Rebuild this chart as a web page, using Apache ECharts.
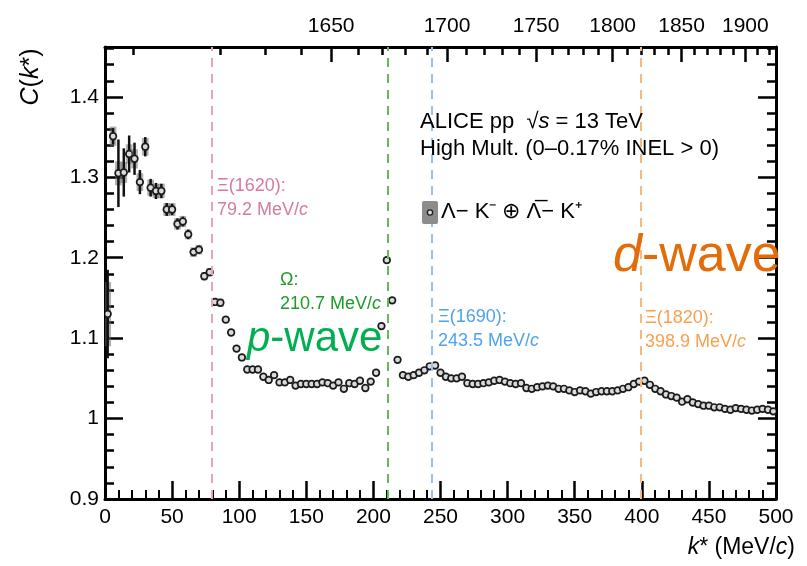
<!DOCTYPE html>
<html>
<head>
<meta charset="utf-8">
<script src="https://cdn.jsdelivr.net/npm/echarts@6/dist/echarts.min.js"></script>
<style>
html, body { margin: 0; padding: 0; background: #fff; }
#main { width: 807px; height: 566px; }
</style>
</head>
<body>
<div id="main"></div>
<script>
// k* bin centres (MeV/c)
var kStar = [
    2, 6, 10, 14, 18, 22, 26, 30, 34, 38, 42, 46, 50, 54, 58, 62, 66, 70, 74, 78,
    82, 86, 90, 94, 98, 102, 106, 110, 114, 118, 122, 126, 130, 134, 138, 142, 146, 150, 154, 158,
    162, 166, 170, 174, 178, 182, 186, 190, 194, 198, 202, 206, 210, 214, 218, 222, 226, 230, 234, 238,
    242, 246, 250, 254, 258, 262, 266, 270, 274, 278, 282, 286, 290, 294, 298, 302, 306, 310, 314, 318,
    322, 326, 330, 334, 338, 342, 346, 350, 354, 358, 362, 366, 370, 374, 378, 382, 386, 390, 394, 398,
    402, 406, 410, 414, 418, 422, 426, 430, 434, 438, 442, 446, 450, 454, 458, 462, 466, 470, 474, 478,
    482, 486, 490, 494, 498
];
// C(k*)
var corr = [
    1.130, 1.351, 1.305, 1.306, 1.329, 1.323, 1.294, 1.338, 1.287, 1.283, 1.283, 1.260, 1.260, 1.242, 1.245, 1.229, 1.207, 1.210, 1.177, 1.182,
    1.145, 1.144, 1.123, 1.107, 1.087, 1.076, 1.061, 1.061, 1.061, 1.052, 1.048, 1.054, 1.045, 1.045, 1.048, 1.041, 1.043, 1.043, 1.043, 1.043,
    1.045, 1.044, 1.041, 1.045, 1.037, 1.044, 1.043, 1.047, 1.038, 1.046, 1.057, 1.115, 1.197, 1.147, 1.073, 1.054, 1.052, 1.054, 1.057, 1.060,
    1.065, 1.066, 1.057, 1.052, 1.050, 1.050, 1.052, 1.044, 1.043, 1.043, 1.044, 1.045, 1.047, 1.048, 1.046, 1.044, 1.043, 1.044, 1.038, 1.037,
    1.039, 1.040, 1.041, 1.040, 1.037, 1.037, 1.035, 1.033, 1.035, 1.034, 1.031, 1.033, 1.034, 1.034, 1.034, 1.035, 1.037, 1.039, 1.043, 1.046,
    1.047, 1.042, 1.037, 1.034, 1.030, 1.028, 1.026, 1.021, 1.024, 1.020, 1.018, 1.016, 1.016, 1.014, 1.014, 1.012, 1.011, 1.013, 1.012, 1.011,
    1.010, 1.011, 1.012, 1.011, 1.009
];
// statistical uncertainties
var statErr = [
    0.055, 0.010, 0.042, 0.030, 0.023, 0.020, 0.015, 0.012, 0.011, 0.010, 0.009, 0.008, 0.007, 0.007, 0.006, 0.006, 0.005, 0.005, 0.005, 0.004,
    0.004, 0.004, 0.004, 0.004, 0.004, 0.004, 0.004, 0.004, 0.003, 0.003, 0.003, 0.003, 0.003, 0.003, 0.003, 0.003, 0.003, 0.003, 0.003, 0.003,
    0.003, 0.003, 0.003, 0.003, 0.003, 0.003, 0.003, 0.003, 0.003, 0.003, 0.003, 0.003, 0.003, 0.003, 0.003, 0.003, 0.003, 0.003, 0.003, 0.003,
    0.003, 0.003, 0.003, 0.003, 0.003, 0.003, 0.003, 0.003, 0.003, 0.003, 0.003, 0.003, 0.003, 0.003, 0.003, 0.003, 0.003, 0.003, 0.003, 0.003,
    0.003, 0.003, 0.003, 0.003, 0.003, 0.003, 0.003, 0.003, 0.003, 0.003, 0.003, 0.003, 0.003, 0.003, 0.003, 0.003, 0.003, 0.003, 0.003, 0.003,
    0.003, 0.003, 0.003, 0.003, 0.003, 0.003, 0.003, 0.003, 0.003, 0.003, 0.003, 0.003, 0.003, 0.003, 0.003, 0.003, 0.003, 0.003, 0.003, 0.003,
    0.003, 0.003, 0.003, 0.003, 0.003
];
// systematic uncertainties
var systErr = [
    0.040, 0.012, 0.015, 0.013, 0.012, 0.012, 0.011, 0.011, 0.010, 0.009, 0.009, 0.008, 0.008, 0.007, 0.007, 0.006, 0.006, 0.006, 0.005, 0.005,
    0.005, 0.005, 0.004, 0.004, 0.004, 0.004, 0.004, 0.004, 0.004, 0.004, 0.004, 0.004, 0.004, 0.004, 0.004, 0.004, 0.004, 0.004, 0.004, 0.004,
    0.004, 0.004, 0.004, 0.004, 0.004, 0.004, 0.004, 0.004, 0.004, 0.004, 0.004, 0.004, 0.004, 0.004, 0.004, 0.004, 0.004, 0.004, 0.004, 0.004,
    0.004, 0.004, 0.004, 0.004, 0.004, 0.004, 0.004, 0.004, 0.004, 0.004, 0.004, 0.004, 0.004, 0.004, 0.004, 0.004, 0.004, 0.004, 0.004, 0.004,
    0.004, 0.004, 0.004, 0.004, 0.004, 0.004, 0.004, 0.004, 0.004, 0.004, 0.004, 0.004, 0.004, 0.004, 0.004, 0.004, 0.004, 0.004, 0.004, 0.004,
    0.004, 0.004, 0.004, 0.004, 0.004, 0.004, 0.004, 0.004, 0.004, 0.004, 0.004, 0.004, 0.004, 0.004, 0.004, 0.004, 0.004, 0.004, 0.004, 0.004,
    0.004, 0.004, 0.004, 0.004, 0.004
];

// thresholds of the resonances
var resName = ['Ξ(1620):', 'Ω:', 'Ξ(1690):', 'Ξ(1820):'];
var resK = [79.2, 210.7, 243.5, 398.9];

var yMajor = [0.9, 1.0, 1.1, 1.2, 1.3, 1.4];
var massMajor = [1650, 1700, 1750, 1800, 1850, 1900];

var FONT = '"Liberation Sans", Arial, Helvetica, sans-serif';
var textColors = ['#d9789f', '#1e9a28', '#4ea2f0', '#f7a050'];
var lineColors = ['#e6a3c1', '#5cbf5c', '#8ec5f6', '#f8b77c'];

// invariant mass <-> k* for the Lambda-K pair
var mLambda = 1115.683, mKaon = 493.677;
function kToMass(k) {
    return Math.sqrt(k * k + mLambda * mLambda) + Math.sqrt(k * k + mKaon * mKaon);
}
function massToK(M) {
    var a = mLambda + mKaon, b = mLambda - mKaon;
    return Math.sqrt((M * M - a * a) * (M * M - b * b)) / (2 * M);
}

var majorK = massMajor.map(massToK);
var minorK = [];
for (var m = 1610; m <= 1920; m += 10) {
    if (massMajor.indexOf(m) < 0) minorK.push(massToK(m));
}
var yMinor = [];
for (var i = 1; i <= 28; i++) {
    if (i % 5 != 0) yMinor.push(+(0.9 + i * 0.02).toFixed(2));
}

var points = [];
for (var i = 0; i < kStar.length; i++) {
    points.push([kStar[i], corr[i], statErr[i], systErr[i]]);
}

var black = { color: '#000', width: 3 };
function xAx(pos, extra) {
    var a = {
        type: 'value', position: pos, min: 0, max: 500,
        axisLine: { show: true, onZero: false, lineStyle: black },
        axisTick: { show: true, inside: true, length: 18, lineStyle: { color: '#000', width: 2.5 } },
        axisLabel: { show: false, color: '#000', fontSize: 21, fontFamily: FONT },
        splitLine: { show: false }
    };
    return echarts.util.merge(a, extra, true);
}
function yAx(pos, extra) {
    var a = {
        type: 'value', position: pos, min: 0.9, max: 1.462,
        axisLine: { show: true, onZero: false, lineStyle: black },
        axisTick: { show: true, inside: true, length: 18, lineStyle: { color: '#000', width: 2.5 } },
        axisLabel: { show: false, color: '#000', fontSize: 21, fontFamily: FONT },
        splitLine: { show: false }
    };
    return echarts.util.merge(a, extra, true);
}

var chart = echarts.init(document.getElementById('main'));

var option = {
    animation: false,
    backgroundColor: '#fff',
    grid: { left: 105, right: 31, top: 47, bottom: 67, containLabel: false, outerBoundsMode: 'none' },
    xAxis: [
        xAx('bottom', {
            interval: 50,
            minorTick: { show: true, splitNumber: 5, length: 9, lineStyle: { color: '#000', width: 2 } },
            axisLabel: { show: true, margin: 8 }
        }),
        xAx('top', {
            axisTick: { length: 15, customValues: majorK },
            axisLabel: {
                show: true, margin: 10, customValues: majorK,
                formatter: function (v) { return Math.round(kToMass(v) / 10) * 10; }
            }
        }),
        xAx('top', {
            axisLine: { show: false },
            axisTick: { length: 8, customValues: minorK }
        })
    ],
    yAxis: [
        yAx('left', {
            axisTick: { customValues: yMajor },
            axisLabel: {
                show: true, margin: 6, customValues: yMajor,
                formatter: function (v) { return String(+v.toFixed(1)); }
            }
        }),
        yAx('left', { axisLine: { show: false }, axisTick: { length: 9, customValues: yMinor } }),
        yAx('right', { axisTick: { customValues: yMajor } }),
        yAx('right', { axisLine: { show: false }, axisTick: { length: 9, customValues: yMinor } })
    ],
    series: [
        {
            type: 'line',
            data: [],
            z: 1,
            markLine: {
                silent: true,
                symbol: ['none', 'none'],
                label: { show: false },
                data: resK.map(function (k, i) {
                    return { xAxis: k, lineStyle: { color: lineColors[i], type: [9, 7], width: 2 } };
                })
            }
        },
        {
            type: 'custom',
            z: 3,
            clip: true,
            data: points,
            renderItem: function (params, api) {
                var k = api.value(0), c = api.value(1), st = api.value(2), sy = api.value(3);
                var p = api.coord([k, c]);
                var hi = api.coord([k, c + st]), lo = api.coord([k, c - st]);
                var b1 = api.coord([k - 2.5, c + sy]), b2 = api.coord([k + 2.5, c - sy]);
                return {
                    type: 'group',
                    children: [
                        { type: 'rect', shape: { x: b1[0], y: b1[1], width: b2[0] - b1[0], height: b2[1] - b1[1] },
                          style: { fill: 'rgba(110,110,110,0.55)' } },
                        { type: 'line', shape: { x1: p[0], y1: hi[1], x2: p[0], y2: lo[1] },
                          style: { stroke: '#111', lineWidth: 2.5 } },
                        { type: 'circle', shape: { cx: p[0], cy: p[1], r: 3.3 },
                          style: { fill: '#dadada', stroke: '#1a1a1a', lineWidth: 1.7 } }
                    ]
                };
            }
        }
    ],
    graphic: []
};

// resonance labels
var labelPos = [[217, 174], [280, 268], [438, 305], [645, 306]];
for (var i = 0; i < resK.length; i++) {
    option.graphic.push({
        type: 'text', x: labelPos[i][0], y: labelPos[i][1], z: 10,
        style: {
            text: '{t|' + resName[i] + '}\n{t|' + resK[i].toFixed(1) + ' MeV/}{it|c}',
            verticalAlign: 'top',
            rich: {
                t: { fontSize: 18, fontFamily: FONT, fill: textColors[i], lineHeight: 24 },
                it: { fontSize: 18, fontFamily: FONT, fill: textColors[i], fontStyle: 'italic', lineHeight: 24 }
            }
        }
    });
}

option.graphic.push(
    { type: 'text', x: 247, y: 339, z: 10,
      style: { text: '{i|p}{n|-wave}', verticalAlign: 'middle',
               rich: { i: { fontSize: 42, fontFamily: FONT, fontStyle: 'italic', fill: '#00b050' },
                       n: { fontSize: 42, fontFamily: FONT, fill: '#00b050' } } } },
    { type: 'text', x: 613, y: 257, z: 10,
      style: { text: '{i|d}{n|-wave}', verticalAlign: 'middle',
               rich: { i: { fontSize: 52, fontFamily: FONT, fontStyle: 'italic', fill: '#e36c0a' },
                       n: { fontSize: 52, fontFamily: FONT, fill: '#e36c0a' } } } },
    { type: 'text', x: 420, y: 122, z: 10,
      style: { text: '{n|ALICE pp  √}{i|s}{n| = 13 TeV}', verticalAlign: 'middle',
               rich: { n: { fontSize: 22, fontFamily: FONT, fill: '#000' },
                       i: { fontSize: 22, fontFamily: FONT, fontStyle: 'italic', fill: '#000' } } } },
    { type: 'text', x: 420, y: 149, z: 10,
      style: { text: 'High Mult. (0–0.17% INEL > 0)', verticalAlign: 'middle',
               fontSize: 22, fontFamily: FONT, fill: '#000' } },
    { type: 'rect', x: 422, y: 201, z: 10,
      shape: { width: 16, height: 23, r: 2 }, style: { fill: '#8c8c8c' } },
    { type: 'circle', x: 430, y: 212.5, z: 11,
      shape: { r: 2.6 }, style: { fill: '#dedede', stroke: '#222', lineWidth: 1.4 } },
    { type: 'text', x: 441, y: 212, z: 10,
      style: { text: 'Λ− K⁻ ⊕ Λ̅− K⁺', verticalAlign: 'middle',
               fontSize: 22, fontFamily: FONT, fill: '#000' } },
    { type: 'text', x: 31, y: 77, rotation: Math.PI / 2, z: 10,
      style: { text: '{i|C}{n|(}{i|k}{n|*)}', align: 'center', verticalAlign: 'middle',
               rich: { i: { fontSize: 25, fontFamily: FONT, fontStyle: 'italic', fill: '#000' },
                       n: { fontSize: 25, fontFamily: FONT, fill: '#000' } } } },
    { type: 'text', x: 795, y: 548, z: 10,
      style: { text: '{i|k}{n|* (MeV/}{i|c}{n|)}', align: 'right', verticalAlign: 'middle',
               rich: { i: { fontSize: 23, fontFamily: FONT, fontStyle: 'italic', fill: '#000' },
                       n: { fontSize: 23, fontFamily: FONT, fill: '#000' } } } }
);

chart.setOption(option);
</script>
</body>
</html>
